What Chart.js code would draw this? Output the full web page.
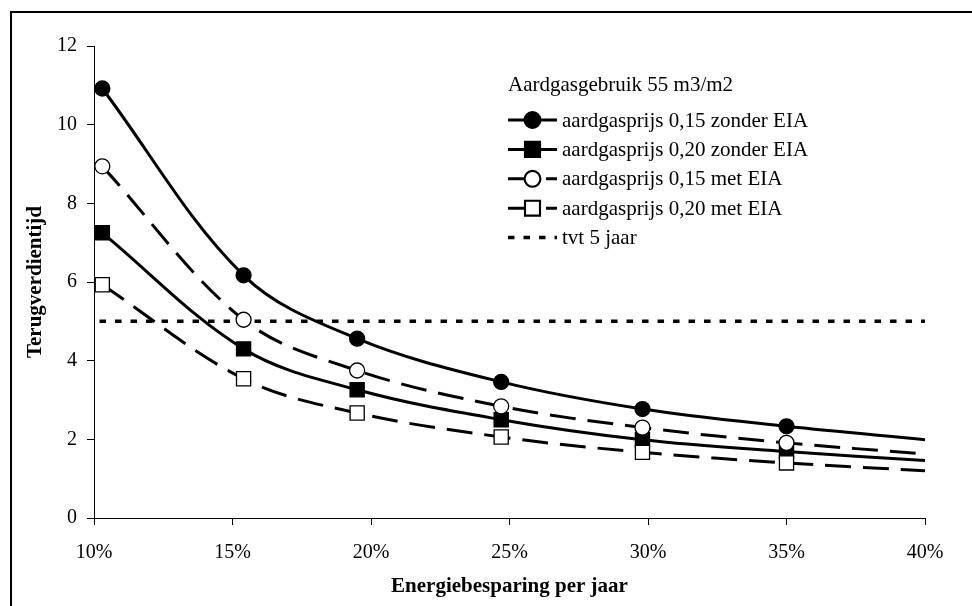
<!DOCTYPE html>
<html>
<head>
<meta charset="utf-8">
<script src="https://cdn.jsdelivr.net/npm/chart.js@4/dist/chart.umd.min.js"></script>
<style>
  body { margin: 0; background: #fff; }
</style>
</head>
<body>
<canvas id="tvt-chart" width="972" height="606"></canvas>
<script>
// energiebesparing per jaar (%), last value is where the curves end (no marker)
var besparing = [10.3, 15.4, 19.5, 24.7, 29.8, 35.0, 40.0];
// terugverdientijd (jaar) per serie
var prijs15Zonder = [10.92, 6.17, 4.56, 3.46, 2.77, 2.33, 1.99];
var prijs20Zonder = [7.25, 4.30, 3.26, 2.50, 1.99, 1.69, 1.46];
var prijs15Met = [8.94, 5.04, 3.75, 2.84, 2.30, 1.91, 1.63];
var prijs20Met = [5.93, 3.54, 2.67, 2.06, 1.67, 1.40, 1.20];
// horizontal 5 year line
var tvtX = [10.2, 40];
var tvtY = [5, 5];
var xTicks = [10, 15, 20, 25, 30, 35, 40];
var yTicks = [0, 2, 4, 6, 8, 10, 12];

var legendTitle = 'Aardgasgebruik 55 m3/m2';
var serif = "'Liberation Serif', 'Times New Roman', serif";

function toPoints(xs, ys) {
    return xs.map(function (x, i) { return { x: x, y: ys[i] }; });
}
// markers on every point except the curve end at 40%
function markers(ys, r) {
    return ys.map(function (v, i) { return i < ys.length - 1 ? r : 0; });
}

function series(label, ys, style, fill, dash, order) {
    var r = style === 'circle' ? 7.5 : 10;
    return {
        label: label,
        data: toPoints(besparing, ys),
        borderColor: '#000',
        borderWidth: 3,
        borderDash: dash,
        tension: 0.35,
        pointStyle: style,
        pointRadius: markers(ys, r),
        pointBackgroundColor: fill,
        pointBorderColor: '#000',
        pointBorderWidth: 1.3,
        order: order
    };
}

// white page with the outer frame, running off the right and bottom edge
var framePlugin = {
    id: 'frame',
    beforeDraw: function (chart) {
        var c = chart.ctx;
        c.save();
        c.fillStyle = '#fff';
        c.fillRect(0, 0, chart.width, chart.height);
        c.strokeStyle = '#000';
        c.lineWidth = 2;
        c.strokeRect(11, 12, 1100, 800);
        c.restore();
    }
};

// legend box inside the plot, like the original
var legendPlugin = {
    id: 'boxLegend',
    afterDraw: function (chart) {
        var c = chart.ctx;
        var x0 = 508, x1 = 557, tx = 562;
        var y = 85, step = 29.4;
        c.save();
        c.fillStyle = '#000';
        c.font = '21px ' + serif;
        c.textBaseline = 'middle';
        c.fillText(legendTitle, 508, y);
        y = 120;
        chart.data.datasets.forEach(function (ds) {
            c.beginPath();
            c.setLineDash(ds.borderDash || []);
            c.lineWidth = ds.borderWidth;
            c.strokeStyle = '#000';
            c.moveTo(x0, y);
            c.lineTo(x1, y);
            c.stroke();
            c.setLineDash([]);
            if (ds.pointStyle && ds.pointStyle !== false) {
                Chart.helpers.drawPoint(c, {
                    pointStyle: ds.pointStyle,
                    radius: ds.pointStyle === 'circle' ? 7.5 : 10,
                    borderWidth: ds.pointBorderWidth
                }, (x0 + x1) / 2, y);
                c.fillStyle = ds.pointBackgroundColor;
                c.strokeStyle = '#000';
                c.lineWidth = ds.pointBorderWidth;
                c.fill();
                c.stroke();
            }
            c.fillStyle = '#000';
            c.fillText(ds.label, tx, y + 1);
            y += step;
        });
        c.restore();
    }
};

var ctx = document.getElementById('tvt-chart').getContext('2d');
var chart = new Chart(ctx, {
    type: 'line',
    data: {
        datasets: [
            series('aardgasprijs 0,15 zonder EIA', prijs15Zonder, 'circle', '#000', [], 4),
            series('aardgasprijs 0,20 zonder EIA', prijs20Zonder, 'rect', '#000', [], 3),
            series('aardgasprijs 0,15 met EIA', prijs15Met, 'circle', '#fff', [26, 12], 2),
            series('aardgasprijs 0,20 met EIA', prijs20Met, 'rect', '#fff', [26, 12], 1),
            {
                label: 'tvt 5 jaar',
                data: toPoints(tvtX, tvtY),
                borderColor: '#000',
                borderWidth: 3.5,
                borderDash: [6.5, 9],
                pointRadius: 0,
                pointStyle: false,
                order: 5
            }
        ]
    },
    options: {
        responsive: false,
        animation: false,
        layout: { padding: { top: 46, right: 47, left: 0, bottom: 0 } },
        plugins: {
            legend: { display: false },
            tooltip: { enabled: false }
        },
        scales: {
            x: {
                type: 'linear',
                min: 10,
                max: 40,
                afterBuildTicks: function (scale) {
                    scale.ticks = xTicks.map(function (v) { return { value: v }; });
                },
                afterFit: function (scale) { scale.height = 88; },
                ticks: {
                    color: '#000',
                    font: { family: serif, size: 20 },
                    padding: 16,
                    maxRotation: 0,
                    callback: function (v) { return v + '%'; }
                },
                grid: { drawOnChartArea: false, tickLength: 7, color: '#000' },
                border: { color: '#000', width: 1 },
                title: {
                    display: true,
                    text: 'Energiebesparing per jaar',
                    color: '#000',
                    font: { family: serif, size: 21, weight: 'bold' },
                    padding: { top: 0, bottom: 7 }
                }
            },
            y: {
                min: 0,
                max: 12,
                afterBuildTicks: function (scale) {
                    scale.ticks = yTicks.map(function (v) { return { value: v }; });
                },
                afterFit: function (scale) { scale.width = 94; },
                ticks: {
                    color: '#000',
                    font: { family: serif, size: 20 },
                    padding: 10
                },
                grid: { drawOnChartArea: false, tickLength: 7, color: '#000' },
                border: { color: '#000', width: 1 },
                title: {
                    display: true,
                    text: 'Terugverdientijd',
                    color: '#000',
                    font: { family: serif, size: 21, weight: 'bold' },
                    padding: { top: 23, bottom: 0 }
                }
            }
        }
    },
    plugins: [framePlugin, legendPlugin]
});
</script>
</body>
</html>
